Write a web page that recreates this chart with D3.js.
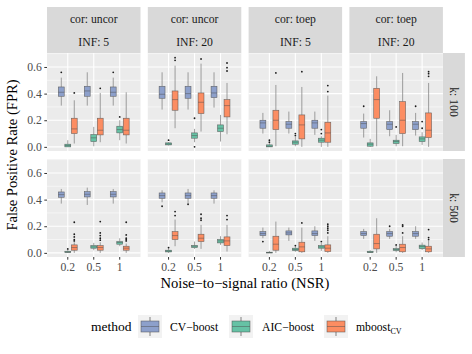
<!DOCTYPE html>
<html>
<head>
<meta charset="utf-8">
<script src="https://cdn.jsdelivr.net/npm/d3@7"></script>
<style>
  body { margin: 0; background: white; }
  svg { display: block; }
</style>
</head>
<body>
<div id="chart"></div>
<script>
// facets
var corLabels = ["cor: uncor", "cor: uncor", "cor: toep", "cor: toep"];
var infLabels = ["INF: 5", "INF: 20", "INF: 5", "INF: 20"];
var kLabels = ["k: 100", "k: 500"];
var nsrLevels = ["0.2", "0.5", "1"];
var methods = ["CV\u2212boost", "AIC\u2212boost", "mboost"];
var methodColors = ["#8DA0CB", "#66C2A5", "#FC8D62"];
var yTicks = [0, 0.2, 0.4, 0.6];
var yMinor = [0.1, 0.3, 0.5, 0.7];

// box stats per method: [lo, q1, median, q3, hi, outliers]
// order: k=100 then k=500; within each row the 4 columns; within each column nsr 0.2, 0.5, 1
var cvBoost = [
  [0.31, 0.38, 0.41, 0.45, 0.52, [0.56]], [0.31, 0.38, 0.42, 0.455, 0.56, []], [0.31, 0.38, 0.41, 0.45, 0.52, [0.56]],
  [0.28, 0.365, 0.395, 0.455, 0.56, []], [0.28, 0.365, 0.40, 0.455, 0.56, []], [0.295, 0.37, 0.405, 0.455, 0.56, []],
  [0.10, 0.14, 0.18, 0.20, 0.255, []], [0.10, 0.14, 0.17, 0.19, 0.265, []], [0.09, 0.14, 0.18, 0.20, 0.265, []],
  [0.07, 0.14, 0.175, 0.19, 0.25, [0.305]], [0.08, 0.13, 0.17, 0.19, 0.275, []], [0.085, 0.13, 0.17, 0.19, 0.255, [0.305]],
  [0.37, 0.4175, 0.4375, 0.4575, 0.48, []], [0.36, 0.42, 0.44, 0.46, 0.49, []], [0.37, 0.42, 0.44, 0.46, 0.48, []],
  [0.38, 0.41, 0.43, 0.45, 0.47, [0.35]], [0.375, 0.41, 0.43, 0.45, 0.48, [0.365]], [0.37, 0.41, 0.43, 0.45, 0.47, []],
  [0.11, 0.13, 0.145, 0.16, 0.19, [0.085]], [0.09, 0.135, 0.15, 0.165, 0.19, []], [0.09, 0.13, 0.145, 0.165, 0.20, []],
  [0.105, 0.13, 0.145, 0.16, 0.18, []], [0.105, 0.125, 0.145, 0.16, 0.18, [0.20]], [0.105, 0.125, 0.145, 0.16, 0.20, []]
];
var aicBoost = [
  [0.0, 0.0, 0.01, 0.02, 0.05, []], [0.005, 0.04, 0.068, 0.0925, 0.15, []], [0.05, 0.105, 0.13, 0.155, 0.20, [0.225]],
  [0.01, 0.015, 0.022, 0.03, 0.035, [0.05]], [0.035, 0.065, 0.085, 0.105, 0.135, [0.215, 0.0]], [0.04, 0.115, 0.14, 0.165, 0.24, []],
  [0.0, 0.0, 0.005, 0.015, 0.03, [0.05, 0.035]], [0.005, 0.02, 0.035, 0.045, 0.075, [0.10, 0.085]], [0.0, 0.035, 0.05, 0.065, 0.08, [0.13, 0.10]],
  [0.0, 0.005, 0.02, 0.03, 0.06, []], [0.005, 0.025, 0.04, 0.05, 0.09, [0.15]], [0.015, 0.04, 0.06, 0.075, 0.11, [0.19, 0.14]],
  [0.0, 0.003, 0.006, 0.012, 0.025, [0.03]], [0.02, 0.035, 0.045, 0.055, 0.075, []], [0.05, 0.065, 0.078, 0.085, 0.11, []],
  [0.0, 0.007, 0.013, 0.02, 0.035, [0.04]], [0.03, 0.04, 0.05, 0.055, 0.085, []], [0.06, 0.075, 0.09, 0.10, 0.125, []],
  [0.0, 0.0, 0.002, 0.005, 0.015, []], [0.008, 0.018, 0.025, 0.035, 0.05, [0.055]], [0.015, 0.035, 0.045, 0.055, 0.075, [0.085]],
  [0.0, 0.002, 0.005, 0.012, 0.02, []], [0.005, 0.018, 0.025, 0.032, 0.055, [0.06]], [0.022, 0.032, 0.048, 0.058, 0.078, []]
];
var mboostCV = [
  [0.025, 0.10, 0.135, 0.215, 0.35, [0.405]], [0.035, 0.09, 0.125, 0.215, 0.405, [0.44]], [0.025, 0.09, 0.125, 0.215, 0.41, []],
  [0.14, 0.275, 0.355, 0.42, 0.61, [0.67, 0.65]], [0.115, 0.25, 0.335, 0.405, 0.625, [0.66]], [0.095, 0.225, 0.31, 0.355, 0.48, [0.63, 0.595, 0.57]],
  [0.005, 0.13, 0.20, 0.275, 0.465, [0.555]], [0.0, 0.06, 0.165, 0.24, 0.45, [0.565]], [0.0, 0.035, 0.105, 0.185, 0.385, [0.46, 0.415]],
  [0.005, 0.215, 0.355, 0.44, 0.53, []], [0.005, 0.10, 0.20, 0.34, 0.555, []], [0.0, 0.07, 0.125, 0.255, 0.48, [0.565, 0.55, 0.53]],
  [0.0, 0.02, 0.04, 0.06, 0.08, [0.23, 0.14, 0.12, 0.10, 0.09]], [0.0, 0.02, 0.04, 0.055, 0.08, [0.235, 0.15, 0.13, 0.11, 0.095]], [0.0, 0.02, 0.035, 0.05, 0.07, [0.23, 0.135, 0.11, 0.10, 0.09]],
  [0.05, 0.10, 0.13, 0.16, 0.25, [0.31, 0.28]], [0.03, 0.085, 0.11, 0.14, 0.21, [0.29, 0.26, 0.245]], [0.01, 0.055, 0.09, 0.12, 0.21, [0.28, 0.25]],
  [0.0, 0.02, 0.065, 0.125, 0.235, []], [0.0, 0.008, 0.045, 0.08, 0.19, [0.225]], [0.0, 0.01, 0.035, 0.06, 0.125, [0.215, 0.20, 0.185, 0.17, 0.15]],
  [0.0, 0.03, 0.07, 0.14, 0.26, []], [0.0, 0.008, 0.04, 0.065, 0.125, [0.21, 0.20, 0.15]], [0.0, 0.008, 0.03, 0.05, 0.09, [0.175, 0.115, 0.10]]
];
var allStats = [cvBoost, aicBoost, mboostCV];

var FONT = "'Liberation Serif', 'DejaVu Serif', serif";
var W = 472, H = 354;
var svg = d3.select("#chart").append("svg").attr("width", W).attr("height", H);

var left = 47, pw = 93.5, gapX = 7.3;
var rowTop = [53, 159], ph = 98;
var stripTop = 7;

var x = d3.scaleBand().domain(nsrLevels).range([0, pw]).paddingOuter(0.3).paddingInner(0);
// the three methods dodge inside each nsr slot
var xm = d3.scaleBand().domain(methods).range([x.bandwidth() * 0.125, x.bandwidth() * 0.875]);
var y = d3.scaleLinear().domain([-0.031, 0.705]).range([ph, 0]);

for (var c = 0; c < 4; c++) {
  var px = left + c * (pw + gapX);
  var strip = svg.append("g").attr("transform", "translate(" + px + "," + stripTop + ")");
  strip.append("rect").attr("width", pw).attr("height", rowTop[0] - stripTop).attr("fill", "#D9D9D9");
  strip.append("text").attr("x", pw / 2).attr("y", 16).attr("text-anchor", "middle")
       .attr("font-size", "11.7px").attr("fill", "#1A1A1A").text(corLabels[c]);
  strip.append("text").attr("x", pw / 2).attr("y", 39).attr("text-anchor", "middle")
       .attr("font-size", "11.7px").attr("fill", "#1A1A1A").text(infLabels[c]);
}

var rightX = left + 4 * pw + 3 * gapX;
for (var r = 0; r < 2; r++) {
  var s = svg.append("g").attr("transform", "translate(" + rightX + "," + rowTop[r] + ")");
  s.append("rect").attr("width", 22).attr("height", ph).attr("fill", "#D9D9D9");
  s.append("text").attr("transform", "translate(7," + ph / 2 + ") rotate(90)")
   .attr("text-anchor", "middle").attr("font-size", "11.7px").attr("fill", "#1A1A1A").text(kLabels[r]);
}

for (var r = 0; r < 2; r++) {
  for (var c = 0; c < 4; c++) {
    var px = left + c * (pw + gapX);
    var g = svg.append("g").attr("transform", "translate(" + px + "," + rowTop[r] + ")");
    g.append("rect").attr("width", pw).attr("height", ph).attr("fill", "#EBEBEB");

    g.selectAll(".minor").data(yMinor).enter().append("line")
      .attr("x1", 0).attr("x2", pw).attr("y1", d => y(d)).attr("y2", d => y(d))
      .attr("stroke", "white").attr("stroke-width", 0.55);
    g.selectAll(".major").data(yTicks).enter().append("line")
      .attr("x1", 0).attr("x2", pw).attr("y1", d => y(d)).attr("y2", d => y(d))
      .attr("stroke", "white").attr("stroke-width", 1.1);
    g.selectAll(".vmajor").data(nsrLevels).enter().append("line")
      .attr("x1", d => x(d) + x.bandwidth() / 2).attr("x2", d => x(d) + x.bandwidth() / 2)
      .attr("y1", 0).attr("y2", ph).attr("stroke", "white").attr("stroke-width", 1.1);

    for (var n = 0; n < 3; n++) {
      var idx = r * 12 + c * 3 + n;
      for (var m = 0; m < 3; m++) {
        var st = allStats[m][idx];
        var bx = x(nsrLevels[n]) + xm(methods[m]);
        var bw = xm.bandwidth();
        var cx = bx + bw / 2;
        var bg = g.append("g");
        bg.append("line").attr("x1", cx).attr("x2", cx).attr("y1", y(st[0])).attr("y2", y(st[1]))
          .attr("stroke", "#808080").attr("stroke-opacity", 0.75).attr("stroke-width", 1);
        bg.append("line").attr("x1", cx).attr("x2", cx).attr("y1", y(st[3])).attr("y2", y(st[4]))
          .attr("stroke", "#808080").attr("stroke-opacity", 0.75).attr("stroke-width", 1);
        bg.append("rect").attr("x", bx + 0.3).attr("width", bw - 0.6)
          .attr("y", y(st[3])).attr("height", Math.max(0.8, y(st[1]) - y(st[3])))
          .attr("fill", methodColors[m]).attr("stroke", "#4D4D4D").attr("stroke-opacity", 0.8)
          .attr("stroke-width", 0.6);
        bg.append("line").attr("x1", bx + 0.3).attr("x2", bx + bw - 0.3)
          .attr("y1", y(st[2])).attr("y2", y(st[2]))
          .attr("stroke", "#4D4D4D").attr("stroke-opacity", 0.8).attr("stroke-width", 0.6);
        bg.selectAll("circle").data(st[5]).enter().append("circle")
          .attr("cx", cx).attr("cy", d => y(d)).attr("r", 0.9).attr("fill", "#1A1A1A");
      }
    }

    if (c === 0) {
      var ya = g.append("g").call(d3.axisLeft(y).tickValues(yTicks).tickFormat(d3.format(".1f")).tickSize(2.7).tickPadding(2.5));
      ya.select(".domain").remove();
      ya.selectAll("line").attr("stroke", "#333333");
      ya.selectAll("text").attr("font-size", "11.7px").attr("fill", "#4D4D4D");
    }
    if (r === 1) {
      var xa = g.append("g").attr("transform", "translate(0," + ph + ")")
        .call(d3.axisBottom(x).tickSize(2.7).tickPadding(2.5));
      xa.select(".domain").remove();
      xa.selectAll("line").attr("stroke", "#333333");
      xa.selectAll("text").attr("font-size", "11.7px").attr("fill", "#4D4D4D");
    }
  }
}

svg.append("text").attr("transform", "translate(17," + (rowTop[0] + rowTop[1] + ph) / 2 + ") rotate(-90)")
   .attr("text-anchor", "middle").attr("font-size", "14.6px").attr("fill", "#000").text("False Positive Rate (FPR)");
svg.append("text").attr("x", left + (4 * pw + 3 * gapX) / 2).attr("y", 288)
   .attr("text-anchor", "middle").attr("font-size", "14.6px").attr("fill", "#000")
   .text("Noise\u2212to\u2212signal ratio (NSR)");

// legend
var leg = svg.append("g");
leg.append("text").attr("x", 91).attr("y", 331).attr("font-size", "13.5px").attr("fill", "#000").text("method");
var keyX = [138, 229, 324];
for (var m = 0; m < 3; m++) {
  var kg = leg.append("g").attr("transform", "translate(" + keyX[m] + ",315)");
  kg.append("rect").attr("width", 24).attr("height", 23).attr("fill", "#F2F2F2");
  kg.append("line").attr("x1", 12).attr("x2", 12).attr("y1", 2).attr("y2", 21)
    .attr("stroke", "#808080").attr("stroke-width", 1);
  kg.append("rect").attr("x", 3).attr("y", 6).attr("width", 18).attr("height", 11)
    .attr("fill", methodColors[m]).attr("stroke", "#4D4D4D").attr("stroke-opacity", 0.8).attr("stroke-width", 0.6);
  kg.append("line").attr("x1", 3).attr("x2", 21).attr("y1", 11.5).attr("y2", 11.5)
    .attr("stroke", "#4D4D4D").attr("stroke-opacity", 0.8).attr("stroke-width", 0.6);
}
leg.append("text").attr("x", 170).attr("y", 331).attr("font-size", "11.7px").attr("fill", "#000").text(methods[0]);
leg.append("text").attr("x", 262).attr("y", 331).attr("font-size", "11.7px").attr("fill", "#000").text(methods[1]);
var t3 = leg.append("text").attr("x", 356).attr("y", 331).attr("font-size", "11.7px").attr("fill", "#000");
t3.append("tspan").text(methods[2]);
t3.append("tspan").attr("dy", 2.5).attr("font-size", "8px").text("CV");

svg.selectAll("text").attr("font-family", FONT);
svg.selectAll("g").filter(function() { return this.hasAttribute("font-family"); }).attr("font-family", FONT);
</script>
</body>
</html>
